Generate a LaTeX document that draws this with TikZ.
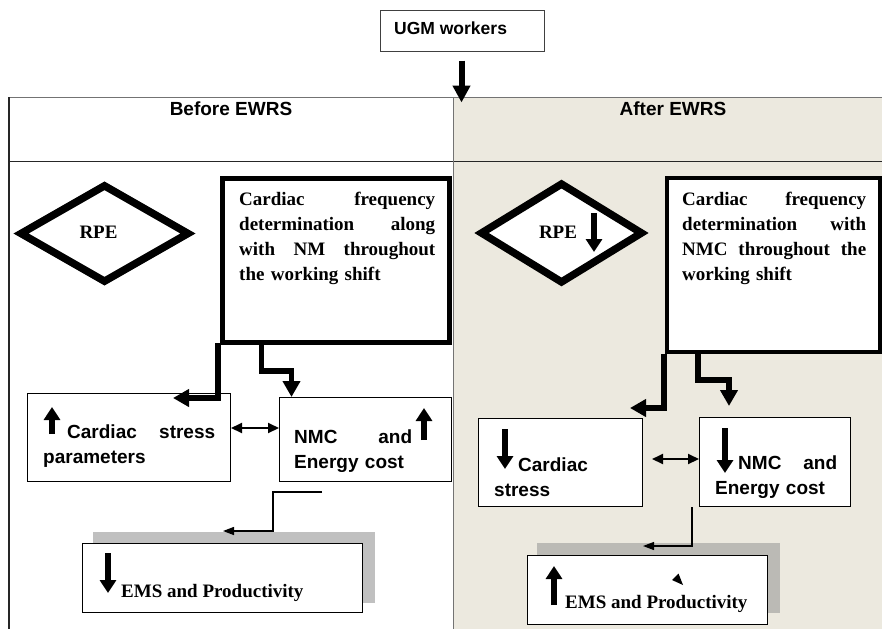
\documentclass[tikz,border=0pt]{standalone}
\usepackage{fontspec}
\setmainfont{Liberation Serif}
\setsansfont{Liberation Sans}
\usetikzlibrary{shapes.geometric,arrows.meta}
\definecolor{beige}{RGB}{236,233,223}
\definecolor{shadowL}{RGB}{192,192,192}
\definecolor{shadowR}{RGB}{187,186,181}
\tikzset{
 sanstxt/.style={font=\fontsize{19}{25}\selectfont\sffamily\bfseries, inner sep=0pt, anchor=base west},
 seriftxt/.style={font=\fontsize{19}{25}\selectfont\rmfamily\bfseries, inner sep=0pt, anchor=base west},
 thinbox/.style={draw, line width=1.4pt, fill=white, anchor=north west, inner sep=0pt},
 bigbox/.style={draw, line width=#1, fill=white, anchor=north west, inner sep=0pt},
 rpebox/.style={diamond, draw, line width=7.5pt, fill=white, inner sep=0pt},
 thickconn/.style={line width=5.5pt, -{Triangle[width=17pt,length=16pt]}},
 thinconn/.style={line width=1.3pt, -{Triangle[width=8pt,length=11pt]}},
 dblarrow/.style={line width=2pt, {Triangle[width=10pt,length=11pt]}-{Triangle[width=10pt,length=11pt]}},
 updown/.style={line width=5.5pt, -{Triangle[width=16pt,length=13pt]}},
 shadowbox/.style={anchor=north west, inner sep=0pt}
}
\begin{document}
\begin{tikzpicture}[x=1pt,y=-1pt]
\useasboundingbox (0,0) rectangle (882,629);
% table background and frame
\fill[beige] (453,97) rectangle (882,629);
\draw[black!55, line width=1.6pt] (9,97.5) -- (882,97.5);
\draw[black!85, line width=1.2pt] (9,161.5) -- (882,161.5);
\draw[black!85, line width=1.2pt] (9,97) -- (9,629);
\draw[black!55, line width=1pt] (453,97) -- (453,629);
\node[sanstxt, anchor=base] (hbefore) at (231,115) {Before EWRS};
\node[sanstxt, anchor=base] (hafter) at (673,115) {After EWRS};

% UGM workers
\node[thinbox, draw=black!75, line width=1.2pt, minimum width=164pt, minimum height=40.5pt] (ugm) at (380,10) {};
\node[sanstxt, font=\fontsize{17.5}{20}\selectfont\sffamily\bfseries] (ugmt) at (394,34.5) {UGM workers};
\coordinate (tabletop) at (461.5,102.5);
\draw[line width=6pt, -{Triangle[width=17pt,length=17pt]}] ([yshift=-9pt]ugm.south -| tabletop) -- (tabletop);

% ---------- Before EWRS ----------
\node[rpebox, minimum width=170pt, minimum height=98.5pt] (lrpe) at (104.5,233.5) {};
\node[seriftxt, anchor=base] (lrpet) at (98.5,238) {RPE};

\node[bigbox=5pt, minimum width=227pt, minimum height=164pt] (lcf) at (220,176) {};
\node[seriftxt, text width=196pt, align=left] (lcft) at (239,205)
 {Cardiac\hfill frequency\\determination\hfill along\\with\hfill NM\hfill throughout\\the working shift};

\node[thinbox, minimum width=202.6pt, minimum height=87.6pt] (lcs) at (27,393) {};
\node[sanstxt, text width=172pt, align=left] (lcst) at (43,438)
 {\hspace*{24pt}Cardiac\hfill stress\\parameters};
\draw[updown] (52,434) -- (52,407);

\node[thinbox, minimum width=171.6pt, minimum height=83.6pt] (lnmc) at (279,397) {};
\node[sanstxt, text width=118pt, align=left] (lnmct) at (294,443)
 {NMC\hfill and\\Energy cost};
\draw[updown] (424,440) -- (424,408);

\coordinate (lc1end) at (173,398);
\draw[thickconn] ([xshift=-2pt,yshift=2pt]lcf.south west) |- (lc1end);
\draw[thickconn] ([xshift=41.5pt]lcf.south west) -- ++(0,26) -| ([xshift=12.5pt]lnmc.north west);

\draw[dblarrow] ([yshift=9.5pt]lcs.east) -- ([yshift=9.5pt]lcs.east -| lnmc.west);

\node[shadowbox, fill=shadowL, minimum width=282pt, minimum height=71pt] (lshadow) at (93,532) {};
\node[thinbox, minimum width=279.6pt, minimum height=68.6pt] (lems) at (82,543) {};
\draw[updown] (108,553) -- (108,593);
\node[seriftxt] (lemst) at (121,597) {EMS and Productivity};

\coordinate (lc3end) at (223,531);
\draw[thinconn] ([shift={(43pt,-10pt)}]lnmc.south west) -- ++(-49,0) |- (lc3end);

% ---------- After EWRS ----------
\node[rpebox, minimum width=163pt, minimum height=101pt] (rrpe) at (561.5,233) {};
\node[seriftxt, anchor=base] (rrpet) at (558,238) {RPE};
\draw[updown] (594,213) -- (594,252);

\node[bigbox=4pt, minimum width=213pt, minimum height=174pt] (rcf) at (665,176) {};
\node[seriftxt, text width=184pt, align=left] (rcft) at (682,205)
 {Cardiac\hfill frequency\\determination\hfill with\\NMC\hfill throughout\hfill the\\working shift};

\node[thinbox, minimum width=163.6pt, minimum height=87.6pt] (rcs) at (478,418) {};
\node[sanstxt, text width=140pt, align=left] (rcst) at (494,471)
 {\hspace*{24pt}Cardiac\\stress};
\draw[updown] (505,429) -- (505,469);

\node[thinbox, minimum width=150.6pt, minimum height=88.6pt] (rnmc) at (699,417) {};
\node[sanstxt, text width=122pt, align=left] (rnmct) at (715,469)
 {\hspace*{23pt}NMC\hfill and\\Energy cost};
\draw[updown] (725,428) -- (725,473);

\coordinate (rc1end) at (630,408);
\coordinate (rc2end) at (729,406);
\draw[thickconn] ([xshift=-1pt]rcf.south west) |- (rc1end);
\draw[thickconn] ([xshift=33pt]rcf.south west) -- ++(0,26) -| (rc2end);

\draw[dblarrow] ([xshift=9pt,yshift=3.5pt]rcs.east) -- ([yshift=3.5pt]rcs.east -| rnmc.west);

\node[shadowbox, fill=shadowR, minimum width=243pt, minimum height=70pt] (rshadow) at (537,543) {};
\node[thinbox, minimum width=239.6pt, minimum height=68.6pt] (rems) at (527,555) {};
\draw[updown] (554,605) -- (554,566);
\fill (672,580) -- (678.5,573.5) -- (683,585) -- cycle;
\node[seriftxt] (remst) at (565,608) {EMS and Productivity};

\coordinate (rc3end) at (643,546);
\draw[thinconn] ([xshift=-7pt]rnmc.south west) |- (rc3end);
\end{tikzpicture}
\end{document}
